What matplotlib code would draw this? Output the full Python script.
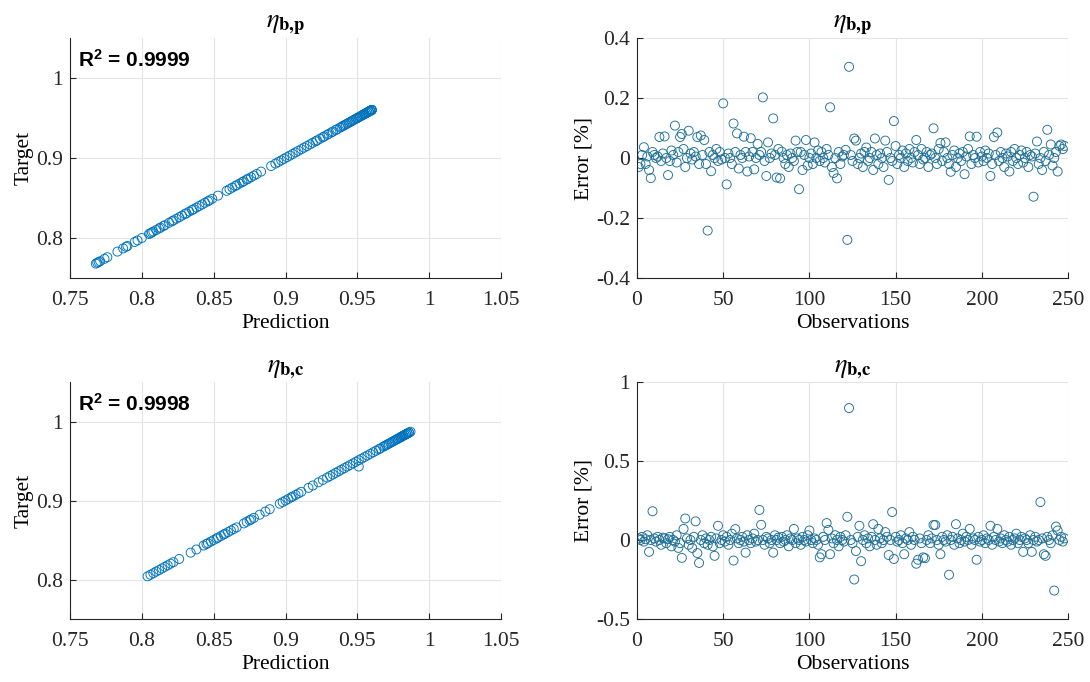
import matplotlib
matplotlib.use("Agg")
import matplotlib.pyplot as plt

plt.rcParams['font.family'] = ['Liberation Serif', 'DejaVu Serif']
plt.rcParams['mathtext.fontset'] = 'custom'
plt.rcParams['mathtext.rm'] = 'Liberation Sans'
plt.rcParams['mathtext.bf'] = 'Liberation Sans:bold'
plt.rcParams['mathtext.it'] = 'Liberation Sans:italic'

# ---------------- data ----------------
pred_p = [0.768, 0.769, 0.770, 0.771, 0.774, 0.776, 0.783, 0.787, 0.789, 0.790,
          0.795, 0.797, 0.800, 0.805, 0.806, 0.807, 0.808, 0.810, 0.812, 0.813,
          0.815, 0.816, 0.819, 0.821, 0.822, 0.824, 0.826, 0.828, 0.830, 0.831,
          0.833, 0.835, 0.836, 0.838, 0.840, 0.842, 0.844, 0.846, 0.847, 0.849,
          0.853, 0.859, 0.861, 0.863, 0.865, 0.866, 0.868, 0.870, 0.871, 0.873,
          0.874, 0.876, 0.878, 0.880, 0.883, 0.890, 0.893, 0.895, 0.897, 0.899,
          0.901, 0.903, 0.905, 0.907, 0.909, 0.911, 0.913, 0.915, 0.917, 0.919,
          0.921, 0.922, 0.924, 0.926, 0.927, 0.929, 0.930, 0.932, 0.933, 0.935,
          0.936, 0.938, 0.939, 0.940, 0.941, 0.942, 0.943, 0.944, 0.945, 0.946,
          0.947, 0.948, 0.949, 0.950, 0.950, 0.951, 0.952, 0.952, 0.953, 0.954,
          0.954, 0.955, 0.955, 0.956, 0.956, 0.957, 0.957, 0.958, 0.958, 0.958,
          0.959, 0.959, 0.959, 0.960, 0.960, 0.960, 0.960]
targ_p = [0.768, 0.769, 0.770, 0.771, 0.774, 0.776, 0.783, 0.787, 0.789, 0.790,
          0.795, 0.797, 0.800, 0.805, 0.806, 0.807, 0.808, 0.810, 0.812, 0.813,
          0.815, 0.816, 0.819, 0.821, 0.822, 0.824, 0.826, 0.828, 0.830, 0.831,
          0.833, 0.835, 0.836, 0.838, 0.840, 0.842, 0.844, 0.846, 0.847, 0.849,
          0.853, 0.859, 0.861, 0.863, 0.865, 0.866, 0.868, 0.870, 0.871, 0.873,
          0.874, 0.876, 0.878, 0.880, 0.883, 0.890, 0.893, 0.895, 0.897, 0.899,
          0.901, 0.903, 0.905, 0.907, 0.909, 0.911, 0.913, 0.915, 0.917, 0.919,
          0.921, 0.922, 0.924, 0.926, 0.927, 0.929, 0.930, 0.932, 0.933, 0.935,
          0.936, 0.938, 0.939, 0.940, 0.941, 0.942, 0.943, 0.944, 0.945, 0.946,
          0.947, 0.948, 0.949, 0.950, 0.950, 0.951, 0.952, 0.952, 0.953, 0.954,
          0.954, 0.955, 0.955, 0.956, 0.956, 0.957, 0.957, 0.958, 0.958, 0.958,
          0.959, 0.959, 0.959, 0.960, 0.960, 0.960, 0.960]

pred_c = [0.804, 0.806, 0.808, 0.810, 0.812, 0.814, 0.816, 0.818, 0.820, 0.822,
          0.826, 0.834, 0.838, 0.843, 0.845, 0.846, 0.848, 0.850, 0.852, 0.853,
          0.855, 0.857, 0.858, 0.860, 0.862, 0.864, 0.866, 0.871, 0.873, 0.875,
          0.876, 0.878, 0.882, 0.886, 0.889, 0.896, 0.898, 0.900, 0.902, 0.904,
          0.905, 0.907, 0.909, 0.911, 0.916, 0.919, 0.923, 0.926, 0.929, 0.931,
          0.933, 0.935, 0.937, 0.939, 0.941, 0.943, 0.945, 0.947, 0.949, 0.951,
          0.951, 0.953, 0.955, 0.957, 0.959, 0.961, 0.963, 0.965, 0.966, 0.968,
          0.969, 0.970, 0.971, 0.972, 0.973, 0.974, 0.975, 0.976, 0.977, 0.978,
          0.978, 0.979, 0.980, 0.980, 0.981, 0.981, 0.982, 0.982, 0.983, 0.983,
          0.984, 0.984, 0.985, 0.985, 0.986, 0.986, 0.987]
targ_c = [0.804, 0.806, 0.808, 0.810, 0.812, 0.814, 0.816, 0.818, 0.820, 0.822,
          0.826, 0.834, 0.838, 0.843, 0.845, 0.846, 0.848, 0.850, 0.852, 0.853,
          0.855, 0.857, 0.858, 0.860, 0.862, 0.864, 0.866, 0.871, 0.873, 0.875,
          0.876, 0.878, 0.882, 0.886, 0.889, 0.896, 0.898, 0.900, 0.902, 0.904,
          0.905, 0.907, 0.909, 0.911, 0.916, 0.919, 0.923, 0.926, 0.929, 0.931,
          0.933, 0.935, 0.937, 0.939, 0.941, 0.943, 0.945, 0.947, 0.949, 0.943,
          0.951, 0.953, 0.955, 0.957, 0.959, 0.961, 0.963, 0.965, 0.966, 0.968,
          0.969, 0.970, 0.971, 0.972, 0.973, 0.974, 0.975, 0.976, 0.977, 0.978,
          0.978, 0.979, 0.980, 0.980, 0.981, 0.981, 0.982, 0.982, 0.983, 0.983,
          0.984, 0.984, 0.985, 0.985, 0.986, 0.986, 0.987]

err_p = [-0.03, -0.02, 0.01, 0.036, -0.02, 0.005, -0.04, -0.067, 0.02, 0.01,
         0.0, 0.005, 0.07, -0.01, 0.015, 0.072, 0.0, -0.057, -0.01, 0.025,
         0.01, 0.108, -0.015, 0.02, 0.07, 0.08, 0.03, -0.03, 0.0, 0.091,
         0.015, -0.005, 0.02, 0.005, 0.07, -0.02, 0.075, 0.01, 0.06, -0.02,
         -0.242, 0.02, -0.044, 0.01, 0.0, 0.03, -0.01, 0.02, -0.005, 0.182,
         0.0, -0.088, 0.015, 0.0, -0.02, 0.115, 0.02, 0.082, -0.035, 0.01,
         0.0, 0.071, 0.02, -0.045, 0.005, 0.066, 0.02, -0.038, 0.0, 0.047,
         0.01, 0.02, 0.202, -0.01, -0.06, 0.052, 0.0, 0.015, 0.132, 0.01,
         -0.065, 0.03, -0.068, 0.021, 0.0, -0.02, 0.01, -0.03, 0.015, 0.0,
         -0.01, 0.058, 0.02, -0.104, 0.02, -0.04, 0.01, 0.06, -0.025, 0.0,
         0.015, -0.02, 0.052, 0.0, 0.025, -0.01, 0.02, 0.0, -0.015, 0.03,
         0.01, 0.169, -0.03, -0.05, 0.0, -0.068, 0.02, -0.02, 0.005, 0.01,
         0.027, -0.273, 0.304, 0.01, -0.01, 0.065, 0.058, -0.02, 0.0, 0.015,
         -0.03, 0.02, 0.035, -0.01, 0.0, 0.02, -0.04, 0.065, 0.01, -0.02,
         0.015, 0.0, -0.03, 0.058, 0.02, -0.073, 0.0, -0.01, 0.123, 0.04,
         -0.02, 0.01, 0.0, 0.025, -0.03, 0.015, -0.01, 0.03, 0.0, -0.015,
         0.02, 0.06, 0.01, -0.02, 0.03, -0.005, 0.0, 0.02, -0.03, 0.01,
         0.015, 0.099, 0.0, -0.02, 0.03, 0.05, -0.01, 0.02, 0.052, 0.0,
         -0.02, -0.046, 0.01, 0.025, -0.03, 0.0, 0.015, -0.01, 0.02, -0.054,
         0.005, 0.03, 0.072, -0.02, 0.01, 0.0, 0.071, -0.015, 0.02, 0.005,
         -0.01, 0.025, 0.0, 0.015, -0.06, -0.02, 0.07, 0.01, 0.085, -0.01,
         0.02, 0.0, -0.03, 0.015, 0.005, -0.045, 0.02, -0.01, 0.03, 0.0,
         -0.02, 0.01, 0.025, -0.015, 0.0, 0.02, -0.03, 0.01, 0.005, -0.129,
         0.015, 0.055, -0.02, 0.0, -0.04, 0.02, -0.01, 0.094, 0.01, 0.045,
         -0.025, 0.0, 0.02, -0.045, 0.04, 0.045, 0.03, 0.04]

err_c = [0.01, 0.0, 0.02, -0.01, 0.005, 0.03, -0.075, 0.0, 0.182, 0.01,
         -0.01, 0.02, 0.0, -0.03, 0.015, 0.01, -0.02, 0.005, 0.02, -0.04,
         0.0, -0.01, 0.03, -0.05, -0.02, -0.113, 0.07, 0.136, 0.01, -0.03,
         0.0, -0.05, 0.02, 0.118, -0.083, -0.145, 0.0, 0.03, -0.02, 0.01,
         -0.03, 0.0, 0.02, -0.04, -0.1, 0.01, 0.09, -0.02, 0.0, 0.03,
         -0.01, 0.02, -0.03, 0.0, 0.04, -0.13, 0.069, 0.01, -0.02, 0.0,
         0.02, -0.01, -0.08, 0.03, 0.0, -0.02, 0.01, 0.04, -0.01, 0.0,
         0.19, 0.096, 0.0, -0.03, 0.02, 0.01, -0.02, 0.0, -0.08, 0.03,
         0.0, 0.015, -0.02, 0.02, -0.01, 0.0, 0.03, -0.04, 0.01, 0.0,
         0.07, -0.02, 0.01, 0.0, -0.03, 0.02, 0.0, -0.01, 0.03, 0.06,
         0.0, -0.02, 0.01, 0.0, -0.03, -0.11, -0.09, 0.02, 0.0, 0.107,
         0.064, -0.09, 0.01, -0.02, 0.03, 0.0, -0.04, 0.02, 0.0, -0.01,
         0.03, 0.147, 0.835, 0.0, -0.02, -0.25, -0.07, 0.02, 0.09, -0.134,
         0.0, 0.03, -0.02, 0.01, -0.04, 0.02, 0.1, 0.0, -0.03, 0.07,
         0.01, -0.02, 0.0, 0.05, 0.02, -0.095, 0.0, 0.177, -0.12, 0.02,
         -0.01, 0.0, 0.03, -0.02, -0.09, 0.01, 0.0, 0.05, -0.03, 0.02,
         0.0, -0.15, -0.125, 0.01, -0.02, -0.11, -0.115, 0.0, 0.03, -0.02,
         0.01, 0.095, 0.095, 0.0, -0.03, -0.09, 0.02, 0.0, -0.01, 0.03,
         -0.22, 0.0, 0.02, -0.03, 0.1, 0.01, -0.02, 0.0, 0.04, -0.01,
         0.02, 0.0, 0.07, -0.03, 0.01, 0.0, -0.125, 0.02, -0.01, 0.0,
         0.03, -0.02, 0.01, 0.0, 0.09, -0.03, 0.02, 0.0, 0.07, -0.01,
         0.01, -0.02, 0.03, 0.0, -0.01, 0.02, -0.03, 0.0, 0.01, 0.04,
         -0.02, 0.0, 0.02, -0.075, 0.01, 0.0, -0.02, 0.03, -0.075, 0.0,
         0.02, -0.01, 0.0, 0.24, 0.01, -0.09, -0.1, 0.02, 0.0, -0.02,
         0.03, -0.32, 0.085, 0.06, 0.0, 0.02, -0.01, 0.01]

titles = [r'$\eta_{\mathbf{b{,}p}}$', r'$\eta_{\mathbf{b{,}c}}$']
r2_labels = [r'$\mathbf{R^{2}}$ = 0.9999', r'$\mathbf{R^{2}}$ = 0.9998']
pred_ticks = [0.75, 0.8, 0.85, 0.9, 0.95, 1, 1.05]
pred_ticklabels = ['0.75', '0.8', '0.85', '0.9', '0.95', '1', '1.05']
targ_ticks = [0.8, 0.9, 1]
targ_ticklabels = ['0.8', '0.9', '1']
obs_ticks = [0, 50, 100, 150, 200, 250]
err_ticks_p = [-0.4, -0.2, 0, 0.2, 0.4]
err_ticklabels_p = ['-0.4', '-0.2', '0', '0.2', '0.4']
err_ticks_c = [-0.5, 0, 0.5, 1]
err_ticklabels_c = ['-0.5', '0', '0.5', '1']

# ---------------- figure ----------------
W, H = 1090, 682
fig = plt.figure(figsize=(W / 100, H / 100), dpi=100)

def rect(x0, y0, x1, y1):
    return [x0 / W, 1 - y1 / H, (x1 - x0) / W, (y1 - y0) / H]

MCOL_L = '#0072BD'
MCOL_R = '#1d6f98'
FS = 15.5

def style(ax):
    for s in ('top', 'right'):
        ax.spines[s].set_visible(False)
    for s in ('left', 'bottom'):
        ax.spines[s].set_color('#262626')
        ax.spines[s].set_linewidth(0.8)
    ax.grid(True, color='#e4e4e4', linewidth=0.8)
    ax.set_axisbelow(True)
    ax.tick_params(direction='in', length=4, width=0.8, labelsize=FS,
                   color='#262626', labelcolor='#262626')
    ax.tick_params(axis='y', pad=5)
    ax.tick_params(axis='x', pad=9)

pairs = [(pred_p, targ_p), (pred_c, targ_c)]
errs = [err_p, err_c]
rows = [(38, 278), (382, 619)]

for i in range(2):
    y0, y1 = rows[i]
    # left: target vs prediction
    ax = fig.add_axes(rect(70, y0, 501, y1))
    style(ax)
    px, ty = pairs[i]
    ax.scatter(px, ty, s=42, facecolors='none', edgecolors=MCOL_L, linewidths=0.65)
    ax.set_xlim(0.75, 1.05)
    ax.set_ylim(0.75, 1.05)
    ax.set_xticks(pred_ticks)
    ax.set_xticklabels(pred_ticklabels)
    ax.set_yticks(targ_ticks)
    ax.set_yticklabels(targ_ticklabels)
    ax.set_xlabel('Prediction', fontsize=FS, labelpad=3)
    ax.set_ylabel('Target', fontsize=FS, labelpad=2)
    ax.set_title(titles[i], fontsize=19, fontweight='bold', pad=7,
                 math_fontfamily='stix')
    ax.text(0.019, 0.955, r2_labels[i], transform=ax.transAxes,
            fontsize=15, fontweight='bold', family='Liberation Sans',
            va='top', ha='left', color='black')

    # right: error vs observations
    ax2 = fig.add_axes(rect(637, y0, 1068, y1))
    style(ax2)
    e = errs[i]
    obs = list(range(1, len(e) + 1))
    ax2.scatter(obs, e, s=42, facecolors='none', edgecolors=MCOL_R, linewidths=0.65)
    ax2.set_xlim(0, 250)
    ax2.set_xticks(obs_ticks)
    if i == 0:
        ax2.set_ylim(-0.4, 0.4)
        ax2.set_yticks(err_ticks_p)
        ax2.set_yticklabels(err_ticklabels_p)
    else:
        ax2.set_ylim(-0.5, 1.0)
        ax2.set_yticks(err_ticks_c)
        ax2.set_yticklabels(err_ticklabels_c)
    ax2.set_xlabel('Observations', fontsize=FS, labelpad=3)
    ax2.set_ylabel('Error [%]', fontsize=FS, labelpad=2)
    ax2.set_title(titles[i], fontsize=19, fontweight='bold', pad=7,
                  math_fontfamily='stix')

fig.savefig('out.png', dpi=100)
